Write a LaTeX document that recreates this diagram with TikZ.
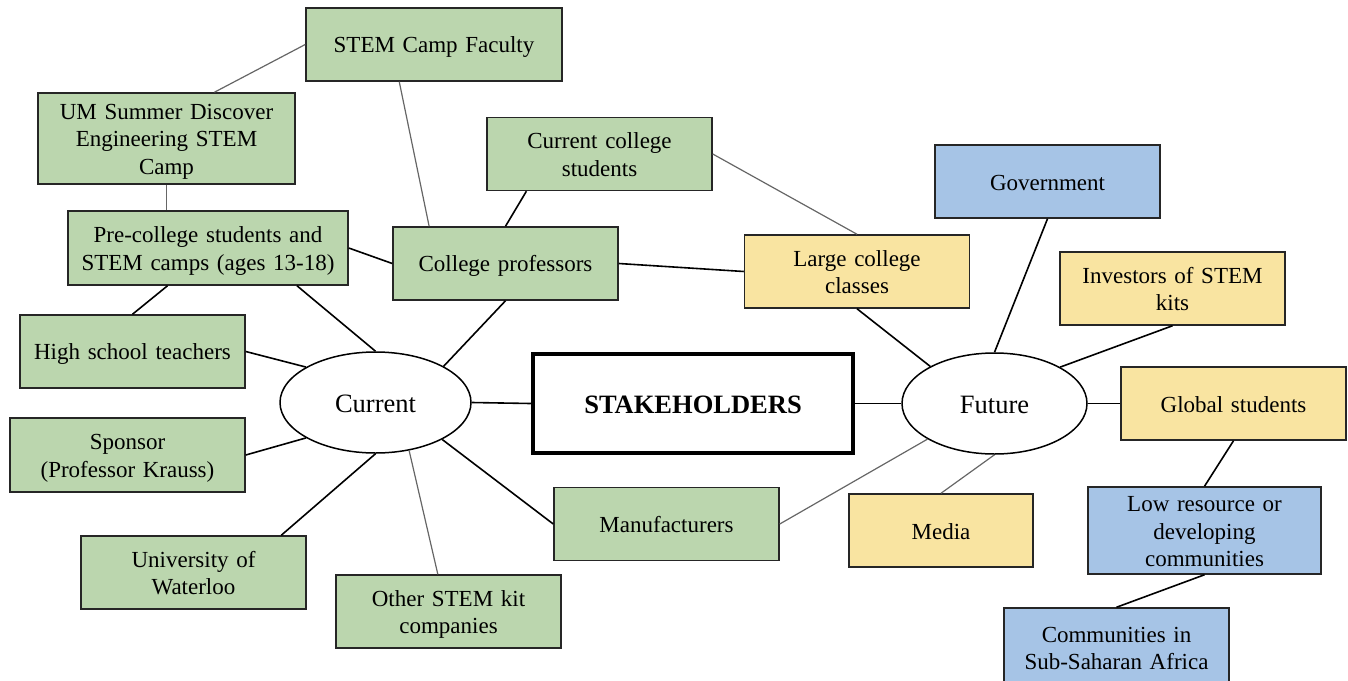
\documentclass[tikz,border=0pt]{standalone}
\usepackage{fontspec}
\setmainfont{Liberation Serif}
\usetikzlibrary{shapes.geometric}

\definecolor{sgreen}{HTML}{BBD6AE}
\definecolor{sblue}{HTML}{A6C4E6}
\definecolor{syellow}{HTML}{F9E4A1}

\begin{document}
\begin{tikzpicture}[
  x=1pt, y=-1pt,
  lift/.style={execute at begin node={\rule{0pt}{0.95em}},
    execute at end node={\rule[-0.19em]{0pt}{0.19em}}},
  box/.style={rectangle, lift, draw=black!85, line width=1.5pt, align=center,
    text width=205pt, inner xsep=10pt, inner ysep=2pt, minimum height=73pt,
    font=\fontsize{23}{27.5}\selectfont},
  gnode/.style={box, fill=sgreen},
  bnode/.style={box, fill=sblue},
  ynode/.style={box, fill=syellow},
  enode/.style={ellipse, lift, draw=black, line width=1.5pt, fill=white, inner sep=0pt,
    minimum width=191pt, minimum height=101pt, font=\fontsize{26.5}{32}\selectfont},
  conline/.style={-, line width=1.6pt, black},
  faintline/.style={-, line width=1.2pt, black!60}
  ]
\useasboundingbox (0,0) rectangle (1348,680);

% centre
\node [rectangle, lift, draw=black, line width=4.5pt, minimum width=320pt, minimum height=99pt,
  font=\fontsize{26.5}{32}\selectfont\bfseries] (stk) at (693,403.5) {STAKEHOLDERS};
\node [enode] (cur) at (375.5,402.5) {Current};
\node [enode, minimum width=185pt] (fut) at (994.5,403.5) {Future};

% current stakeholders
\node [gnode, text width=236pt] (fac) at (434,44.5) {STEM Camp Faculty};
\node [gnode, text width=237pt, minimum height=91pt] (um) at (166.5,138.5) {UM Summer Discover\\Engineering STEM\\Camp};
\node [gnode] (ccs) at (599.5,154) {Current college\\students};
\node [gnode, text width=260pt, minimum height=74pt] (pre) at (208,248) {Pre-college students and\\STEM camps (ages 13-18)};
\node [gnode] (prof) at (505.5,263.5) {College professors};
\node [gnode] (hst) at (132.5,351.5) {High school teachers};
\node [gnode, text width=215pt, minimum height=74pt] (spon) at (127.5,455) {Sponsor\\(Professor Krauss)};
\node [gnode] (uw) at (193.5,572.5) {University of\\Waterloo};
\node [gnode] (oth) at (448.5,611.5) {Other STEM kit\\companies};
\node [gnode] (man) at (666.5,524) {Manufacturers};

% future stakeholders
\node [bnode] (gov) at (1047.5,181.5) {Government};
\node [ynode] (large) at (857,271.5) {Large college\\classes};
\node [ynode] (inv) at (1172.5,288.5) {Investors of STEM\\kits};
\node [ynode] (glob) at (1233.5,403.5) {Global students};
\node [ynode, text width=164pt] (media) at (941,530.5) {Media};
\node [bnode, text width=213pt, minimum height=87pt] (low) at (1204.5,530.5) {Low resource or\\developing\\communities};
\node [bnode, minimum height=78pt] (afr) at (1116.5,647) {Communities in\\Sub-Saharan Africa};

% links
\draw [faintline] (fac.west) -- (um.44);
\draw [faintline] (um.south) -- (um.south |- pre.north);
\draw [faintline] (fac.227) -- (prof.154);
\draw [faintline] (ccs.east) -- (large.north);
\draw [faintline] (oth.106) -- (cur.-55);
\draw [faintline] (man.east) -- (fut.208);
\draw [faintline] (fut.south) -- (media.north);

\draw [conline] (ccs.207) -- (prof.north);
\draw [conline] (pre.east) -- (prof.west);
\draw [conline] (prof.east) -- (large.west);
\draw [conline] (pre.223) -- (hst.north);
\draw [conline] (pre.-23) -- (cur.north);
\draw [conline] (prof.south) -- (cur.28);
\draw [conline] (hst.east) -- (cur.153);
\draw [conline] (spon.east) -- (cur.207);
\draw [conline] (uw.23) -- (cur.south);
\draw [conline] (man.west) -- (cur.-29);
\draw [conline] (cur.east) -- (stk.west);
\draw [conline] (stk.east) -- (fut.west);
\draw [conline] (large.south) -- (fut.150);
\draw [conline] (gov.south) -- (fut.north);
\draw [conline] (inv.south) -- (fut.29);
\draw [conline] (fut.east) -- (glob.west);
\draw [conline] (glob.south) -- (low.north);
\draw [conline] (low.south) -- (afr.north);

\end{tikzpicture}
\end{document}
